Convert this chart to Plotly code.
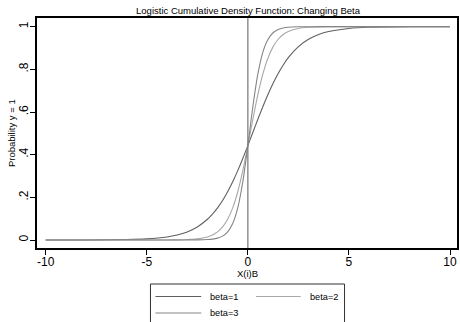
import plotly.graph_objects as go

# ---- data ----
x_vals = [-10, -8, -6, -5, -4, -3.5, -3, -2.5, -2, -1.75, -1.5, -1.25, -1, -0.75, -0.5, -0.25,
          0, 0.25, 0.5, 0.75, 1, 1.25, 1.5, 1.75, 2, 2.5, 3, 3.5, 4, 5, 6, 8, 10]
beta1 = [0.0000, 0.0003, 0.0020, 0.0053, 0.0143, 0.0234, 0.0380, 0.0612, 0.0971, 0.1213, 0.1506,
         0.1854, 0.2262, 0.2729, 0.3252, 0.3822, 0.4428, 0.5050, 0.5671, 0.6271, 0.6835, 0.7350,
         0.7807, 0.8205, 0.8545, 0.9064, 0.9410, 0.9634, 0.9775, 0.9916, 0.9969, 0.9996, 1.0000]
beta2 = [0.0000, 0.0000, 0.0000, 0.0000, 0.0003, 0.0007, 0.0020, 0.0053, 0.0143, 0.0234, 0.0380,
         0.0612, 0.0971, 0.1506, 0.2262, 0.3252, 0.4428, 0.5671, 0.6835, 0.7807, 0.8545, 0.9064,
         0.9410, 0.9634, 0.9775, 0.9916, 0.9969, 0.9989, 0.9996, 0.9999, 1.0000, 1.0000, 1.0000]
beta3 = [0.0000, 0.0000, 0.0000, 0.0000, 0.0000, 0.0000, 0.0001, 0.0004, 0.0020, 0.0042, 0.0088,
         0.0183, 0.0380, 0.0773, 0.1506, 0.2729, 0.4428, 0.6271, 0.7807, 0.8829, 0.9410, 0.9713,
         0.9862, 0.9934, 0.9969, 0.9993, 0.9998, 1.0000, 1.0000, 1.0000, 1.0000, 1.0000, 1.0000]
series_names = ["beta=1", "beta=2", "beta=3"]
series_colors = ["#606060", "#a8a8a8", "#858585"]
x_ticks = [-10, -5, 0, 5, 10]
x_ticktext = ["-10", "-5", "0", "5", "10"]
y_ticks = [0, 0.2, 0.4, 0.6, 0.8, 1]
y_ticktext = ["0", ".2", ".4", ".6", ".8", "1"]

W, H = 460, 322
L, R, T, B = 37, 1, 18, 74
PW, PH = W - L - R, H - T - B
FONT = "Liberation Sans, Arial, sans-serif"

def px_x(p):
    return (p - L) / PW

def px_y(p):
    return (H - B - p) / PH

fig = go.Figure()
for name, ys, col in zip(series_names, [beta1, beta2, beta3], series_colors):
    fig.add_trace(go.Scatter(x=x_vals, y=ys, mode="lines", name=name,
                             line=dict(color=col, width=1.1, shape="spline", smoothing=0.8),
                             showlegend=False))

fig.add_vline(x=0, line=dict(color="#808080", width=1.3))

fig.update_layout(
    width=W, height=H,
    margin=dict(l=L, r=R, t=T, b=B, pad=0),
    paper_bgcolor="white", plot_bgcolor="white",
    font=dict(family=FONT, color="black"),
    title=dict(text="Logistic Cumulative Density Function: Changing Beta",
               x=248 / W, xanchor="center",
               y=1 - 11 / H, yanchor="middle", font=dict(size=9.5, family=FONT)),
)
fig.update_xaxes(range=[-10.43, 10.345], tickvals=x_ticks, ticktext=x_ticktext, ticks="outside",
                 ticklen=5, tickcolor="black", tickwidth=1, showline=True, linecolor="black",
                 linewidth=1.5, mirror=True, showgrid=False, zeroline=False,
                 ticklabelstandoff=-3, tickfont=dict(size=12, family=FONT))
fig.update_yaxes(range=[-0.0375, 1.0406], tickvals=y_ticks, ticktext=y_ticktext, ticks="outside",
                 ticklen=5, tickcolor="black", tickwidth=1, showline=True, linecolor="black",
                 linewidth=1.5, mirror=True, showgrid=False, zeroline=False, tickangle=-90,
                 ticklabelstandoff=-3, tickfont=dict(size=12, family=FONT))

# axis titles
fig.add_annotation(text="X(i)B", xref="paper", yref="paper", x=px_x(249), y=px_y(273),
                   xanchor="center", yanchor="middle", showarrow=False,
                   font=dict(size=9.5, family=FONT))
fig.add_annotation(text="Probability y = 1", xref="paper", yref="paper", x=px_x(11), y=px_y(133),
                   xanchor="center", yanchor="middle", showarrow=False, textangle=-90,
                   font=dict(size=9.5, family=FONT))

# legend (drawn manually, clipped at the bottom like the reference)
fig.add_shape(type="rect", xref="paper", yref="paper", x0=px_x(151), x1=px_x(346),
              y0=px_y(284), y1=px_y(335), line=dict(color="#333333", width=1), fillcolor="white")
legend_pos = [(156, 202, 209, 296.5), (257, 302, 309, 296.5), (156, 202, 209, 313)]
for name, col, (lx0, lx1, tx, ly) in zip(series_names, series_colors, legend_pos):
    fig.add_shape(type="line", xref="paper", yref="paper", x0=px_x(lx0), x1=px_x(lx1),
                  y0=px_y(ly), y1=px_y(ly), line=dict(color=col, width=1.1))
    fig.add_annotation(text=name, xref="paper", yref="paper", x=px_x(tx), y=px_y(ly),
                       xanchor="left", yanchor="middle", showarrow=False,
                       font=dict(size=9.2, family=FONT))

fig.write_html("out.html")
